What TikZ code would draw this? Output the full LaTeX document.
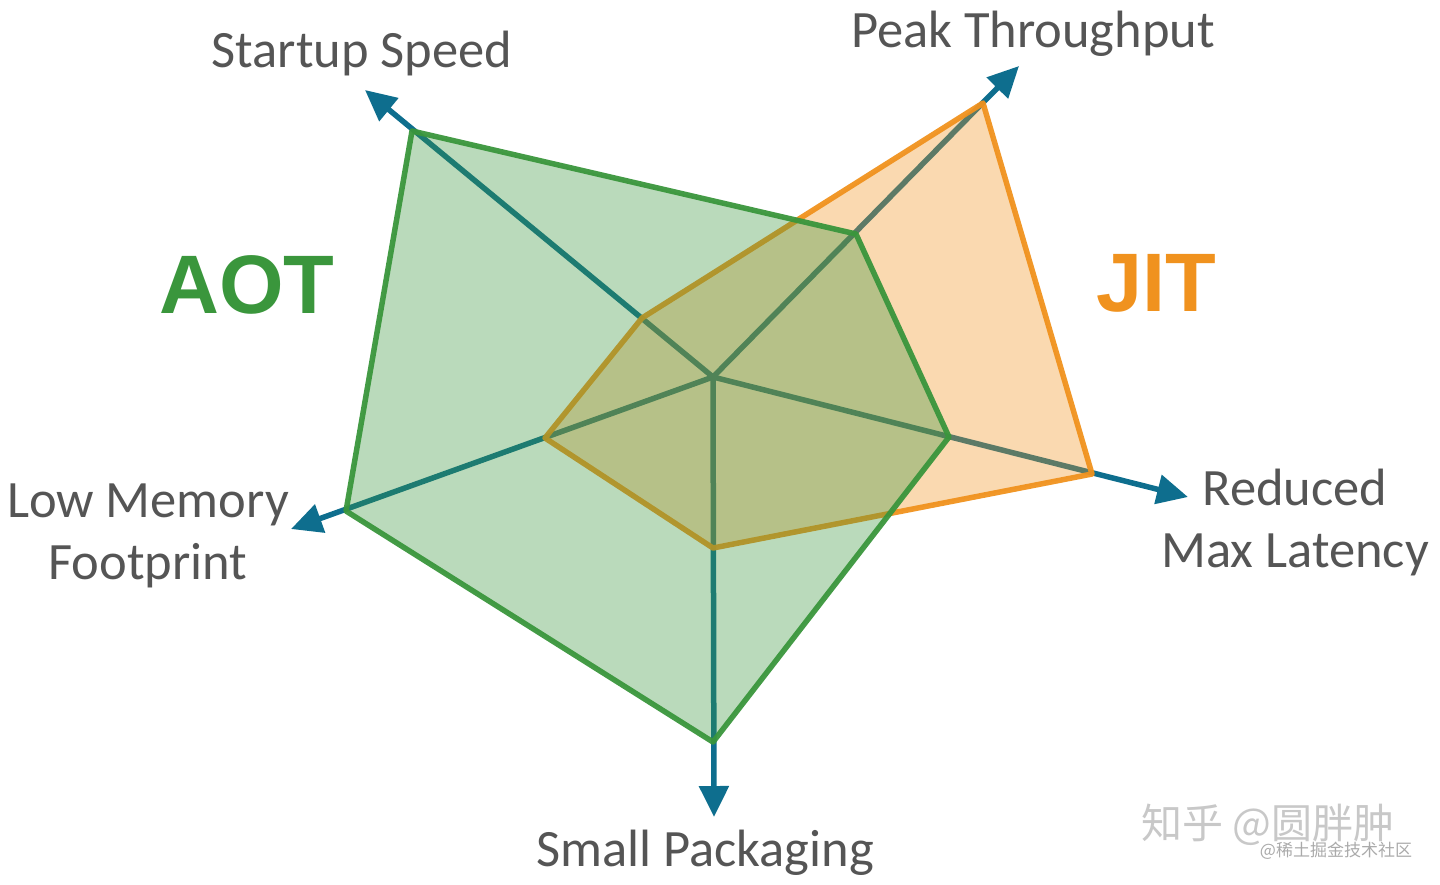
\documentclass[tikz,border=0pt]{standalone}
\usepackage{fontspec}
\setmainfont{Carlito}
\newfontfamily\boldsans{Liberation Sans}
\newfontfamily\cjk{Noto Sans CJK SC}
\usetikzlibrary{arrows.meta}
\definecolor{axisteal}{RGB}{14,110,142}
\definecolor{aotgreen}{RGB}{58,150,60}
\definecolor{jitorange}{RGB}{240,146,30}
\definecolor{labelgray}{RGB}{85,85,85}
\definecolor{wmgray}{RGB}{200,200,200}
\tikzset{
  axisline/.style={draw=axisteal, line width=5.5pt, -{Triangle[length=31pt,width=29pt]}},
  aotpoly/.style={draw=aotgreen, line width=5.5pt, line join=round, fill=aotgreen, fill opacity=0.35, draw opacity=0.95},
  jitpoly/.style={draw=jitorange, line width=5.5pt, line join=round, fill=jitorange, fill opacity=0.35, draw opacity=0.95},
  axislabel/.style={anchor=base, inner sep=0pt, text=labelgray, font=\fontsize{52.5}{62}\selectfont},
  bigtag/.style={anchor=base, inner sep=0pt, font=\boldsans\bfseries\fontsize{83}{83}\selectfont}
}
\begin{document}
\begin{tikzpicture}[x=1pt,y=-1pt]
\useasboundingbox (0,0) rectangle (1440,884);
% centre and axis tips
\coordinate (O) at (713,377);
\coordinate (tS) at (365,90);
\coordinate (tP) at (1019,66);
\coordinate (tL) at (1188,497);
\coordinate (tK) at (714,817);
\coordinate (tM) at (291,529);
% AOT vertices
\coordinate (a1) at (412,131);
\coordinate (a2) at (856,234);
\coordinate (a3) at (949,437);
\coordinate (a4) at (713,742);
\coordinate (a5) at (346,511);
% JIT vertices
\coordinate (j1) at (642,318);
\coordinate (j2) at (983,103);
\coordinate (j3) at (1092,474);
\coordinate (j4) at (713,548);
\coordinate (j5) at (545,438);
% axes
\draw[axisline] (O) -- (tS);
\draw[axisline] (O) -- (tP);
\draw[axisline] (O) -- (tL);
\draw[axisline] (O) -- (tK);
\draw[axisline] (O) -- (tM);
% polygons
\draw[jitpoly] (j1) -- (j2) -- (j3) -- (j4) -- (j5) -- cycle;
\draw[aotpoly] (a1) -- (a2) -- (a3) -- (a4) -- (a5) -- cycle;
% labels
\node[axislabel] (lS) at (362,67) {Startup Speed};
\node[axislabel] (lP) at (1033,47) {Peak Throughput};
\node[axislabel] (lL1) at (1295,505) {Reduced};
\node[axislabel] (lL2) at (1295,567) {Max Latency};
\node[axislabel] (lM1) at (148,517) {Low Memory};
\node[axislabel] (lM2) at (148,579) {Footprint};
\node[axislabel] (lK) at (705,866) {Small Packaging};
\node[bigtag, text=aotgreen] (aot) at (247,313) {AOT};
\node[bigtag, text=jitorange] (jit) at (1156,311) {JIT};
% watermark
\node[anchor=base, inner sep=0pt, text=wmgray, font=\cjk\fontsize{41}{41}\selectfont] (wm1) at (1268,838) {知乎 @圆胖肿};
\node[anchor=base, inner sep=0pt, text=wmgray!85!black, font=\cjk\fontsize{17}{17}\selectfont] (wm2) at (1336,856) {@稀土掘金技术社区};
\end{tikzpicture}
\end{document}
